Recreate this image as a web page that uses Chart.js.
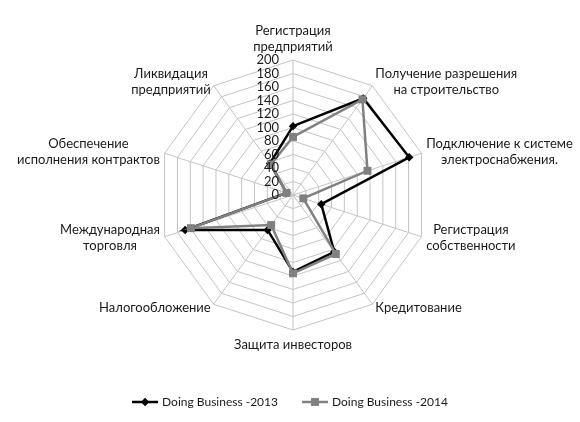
<!DOCTYPE html>
<html>
<head>
<meta charset="utf-8">
<script src="https://cdn.jsdelivr.net/npm/chart.js@4/dist/chart.umd.min.js"></script>
<style>
  html, body { margin:0; padding:0; background:#fff; }
  #wrap { width:580px; height:422px; }
</style>
</head>
<body>
<div id="wrap"><canvas id="c" width="580" height="422"></canvas></div>
<script>
// ---------- data ----------
const categories = [
  ['Регистрация','предприятий'],
  ['Получение разрешения','на строительство'],
  ['Подключение к системе','электроснабжения.'],
  ['Регистрация','собственности'],
  ['Кредитование'],
  ['Защита инвесторов'],
  ['Налогообложение'],
  ['Международная','торговля'],
  ['Обеспечение','исполнения контрактов'],
  ['Ликвидация','предприятий']
];
const db2013 = [102, 177, 181, 44, 104, 114, 64, 168, 10, 58];
const db2014 = [86, 175, 116, 16, 108, 116, 55, 159, 10, 56];
const seriesNames = ['Doing Business -2013', 'Doing Business -2014'];
const tickValues = [0, 20, 40, 60, 80, 100, 120, 140, 160, 180, 200];

const FONT = '13px Lato, "Open Sans", sans-serif';
const LEGEND_FONT = '12px Lato, "Open Sans", sans-serif';
const TEXT = '#1a1a1a';

// ---------- labels, ticks, legend drawn on the radial scale ----------
const decor = {
  id: 'decor',
  afterDraw(chart) {
    const ctx = chart.ctx;
    const s = chart.scales.r;
    ctx.save();
    ctx.font = FONT;
    ctx.fillStyle = TEXT;

    // value ticks, left of the vertical axis
    ctx.textAlign = 'right';
    ctx.textBaseline = 'middle';
    tickValues.forEach(v => {
      const y = s.yCenter - s.getDistanceFromCenterForValue(v);
      ctx.fillText(String(v), s.xCenter - 14, y);
    });

    // category labels
    const lh = 16;
    chart.data.labels.forEach((lines, i) => {
      const p = s.getPointPosition(i, s.drawingArea + 5);
      const sin = Math.sin(p.angle + Math.PI / 2);
      const cos = Math.cos(p.angle + Math.PI / 2);
      const w = Math.max(...lines.map(t => ctx.measureText(t).width));
      const h = lines.length * lh;
      let cx, top;
      if (Math.abs(sin) < 0.05) {
        cx = p.x;
        top = cos > 0 ? p.y - h : p.y + 2;
      } else {
        cx = sin > 0 ? p.x + w / 2 : p.x - w / 2;
        top = p.y - h / 2;
      }
      ctx.textAlign = 'center';
      lines.forEach((t, k) => ctx.fillText(t, cx, top + lh * k + lh / 2));
    });

    // legend
    ctx.font = LEGEND_FONT;
    const y = 402, lineW = 26, gap = 4, itemGap = 24;
    const widths = chart.data.datasets.map(d => lineW + gap + ctx.measureText(d.label).width);
    const total = widths.reduce((a, b) => a + b, 0) + itemGap * (widths.length - 1);
    let x = chart.width / 2 - total / 2;
    chart.data.datasets.forEach((d, i) => {
      ctx.strokeStyle = d.borderColor;
      ctx.lineWidth = d.borderWidth;
      ctx.beginPath();
      ctx.moveTo(x, y);
      ctx.lineTo(x + lineW, y);
      ctx.stroke();
      ctx.fillStyle = d.pointBackgroundColor;
      Chart.helpers.drawPoint(ctx, {pointStyle: d.pointStyle, radius: d.pointRadius, borderWidth: 0}, x + lineW / 2, y);
      ctx.fillStyle = TEXT;
      ctx.textAlign = 'left';
      ctx.fillText(d.label, x + lineW + gap, y);
      x += widths[i] + itemGap;
    });
    ctx.restore();
  }
};

new Chart(document.getElementById('c'), {
  type: 'radar',
  data: {
    labels: categories,
    datasets: [
      { label: seriesNames[0], data: db2013, order: 1,
        borderColor: '#000000', borderWidth: 2.5, fill: false,
        pointStyle: 'rectRot', pointRadius: 4.2, pointBackgroundColor: '#000000', pointBorderWidth: 0 },
      { label: seriesNames[1], data: db2014, order: 0,
        borderColor: '#808080', borderWidth: 2.5, fill: false,
        pointStyle: 'rect', pointRadius: 5.6, pointBackgroundColor: '#808080', pointBorderWidth: 0 }
    ]
  },
  options: {
    responsive: false,
    animation: false,
    layout: { padding: { left: 158, right: 152, top: 60, bottom: 92 } },
    elements: { line: { tension: 0 } },
    plugins: { legend: { display: false }, tooltip: { enabled: false } },
    scales: {
      r: {
        min: 0, max: 200,
        ticks: { display: false, stepSize: 20 },
        pointLabels: { display: false },
        grid: { color: '#c4c4c4', lineWidth: 1 },
        angleLines: { color: '#c4c4c4', lineWidth: 1 }
      }
    }
  },
  plugins: [decor]
});
</script>
</body>
</html>
